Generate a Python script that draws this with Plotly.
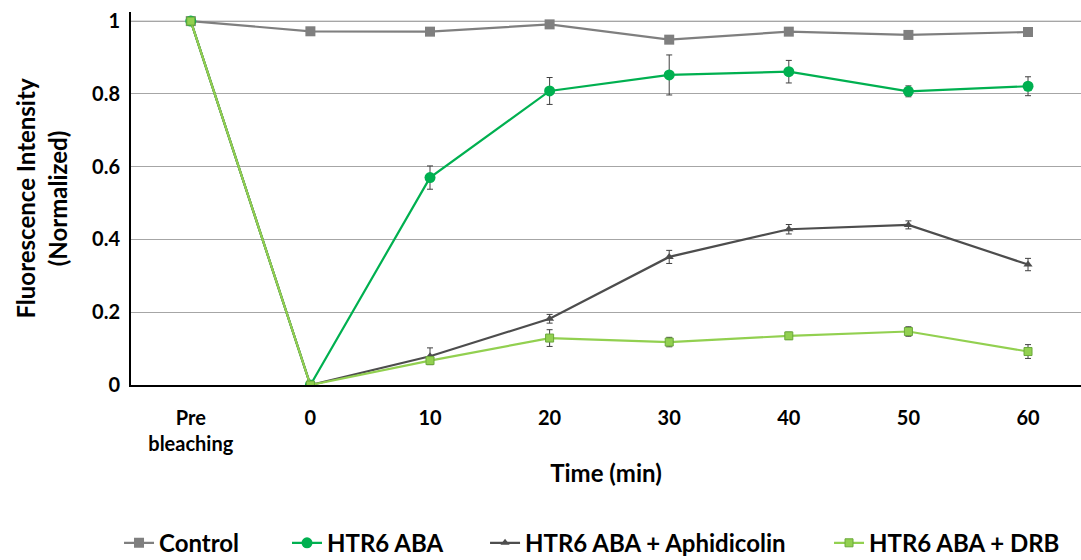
import plotly.graph_objects as go

categories = ["Pre<br>bleaching", "0", "10", "20", "30", "40", "50", "60"]

control = [1.0, 0.972, 0.971, 0.991, 0.949, 0.971, 0.962, 0.970]
control_err = [0, 0, 0, 0, 0, 0, 0, 0]

aba = [1.0, 0.0, 0.570, 0.808, 0.852, 0.861, 0.807, 0.821]
aba_err = [0, 0, 0.032, 0.037, 0.055, 0.031, 0.015, 0.026]

aphid = [1.0, 0.0, 0.079, 0.182, 0.352, 0.428, 0.440, 0.331]
aphid_err = [0, 0, 0.023, 0.012, 0.018, 0.013, 0.011, 0.017]

drb = [1.0, 0.0, 0.067, 0.129, 0.118, 0.135, 0.147, 0.092]
drb_err = [0, 0, 0.010, 0.023, 0.013, 0.010, 0.013, 0.019]

x = list(range(len(categories)))
FONT = "Lato"

def err(vals):
    return dict(type="data", array=vals, visible=True, color="#404040", thickness=1, width=3)

fig = go.Figure()
fig.add_trace(go.Scatter(x=x, y=control, name="Control", mode="lines+markers",
                         line=dict(color="#7f7f7f", width=2.2),
                         marker=dict(symbol="square", size=10, color="#7f7f7f"),
                         error_y=err(control_err), legend="legend"))
fig.add_trace(go.Scatter(x=x, y=aba, name="HTR6 ABA", mode="lines+markers",
                         line=dict(color="#00b050", width=2.2),
                         marker=dict(symbol="circle", size=11, color="#00b050"),
                         error_y=err(aba_err), legend="legend2"))
fig.add_trace(go.Scatter(x=x, y=aphid, name="HTR6 ABA + Aphidicolin", mode="lines+markers",
                         line=dict(color="#4d4d4d", width=2.2),
                         marker=dict(symbol="triangle-up", size=8, color="#4d4d4d"),
                         error_y=err(aphid_err), legend="legend3"))
fig.add_trace(go.Scatter(x=x, y=drb, name="HTR6 ABA + DRB", mode="lines+markers",
                         line=dict(color="#92d050", width=2.2),
                         marker=dict(symbol="square", size=8, color="#92d050",
                                     line=dict(color="#6aa83a", width=1)),
                         error_y=err(drb_err), legend="legend4"))

fig.add_shape(type="line", xref="paper", yref="y", x0=0, x1=1, y0=1, y1=1,
              line=dict(color="#d4d4d4", width=1.5), layer="below")

LEG_Y = 0.03
def leg(xpos):
    return dict(orientation="h", xref="container", yref="container",
                x=xpos, xanchor="left", y=LEG_Y, yanchor="middle",
                font=dict(size=24, family=FONT, weight="bold"), itemwidth=30,
                bgcolor="rgba(0,0,0,0)")

fig.update_layout(
    width=1081, height=560,
    margin=dict(l=131, r=0, t=12, b=175),
    paper_bgcolor="white", plot_bgcolor="white",
    font=dict(family=FONT, color="black"),
    showlegend=True,
    legend=leg(0.1101),
    legend2=leg(0.2655),
    legend3=leg(0.4487),
    legend4=leg(0.7669),
)
fig.update_xaxes(
    range=[-0.5, 7.443], tickmode="array", tickvals=x, ticktext=categories,
    showgrid=False, showline=True, linecolor="black", linewidth=2,
    ticks="", tickfont=dict(size=20, family=FONT, weight="bold"),
    ticklabelstandoff=14,
    title=dict(text="Time (min)", font=dict(size=24, family=FONT, weight="bold"), standoff=11),
    zeroline=False,
)
fig.update_yaxes(
    range=[0, 1.025], tickmode="array", tickvals=[0, 0.2, 0.4, 0.6, 0.8, 1],
    ticktext=["0", "0.2", "0.4", "0.6", "0.8", "1"],
    showgrid=True, gridcolor="#a6a6a6", gridwidth=1,
    showline=True, linecolor="black", linewidth=2, ticks="",
    tickfont=dict(size=20, family=FONT, weight="bold"),
    ticklabelstandoff=5,
    title=dict(text="Fluorescence Intensity<br>(Normalized)",
               font=dict(size=24, family=FONT, weight="bold"), standoff=18),
    zeroline=False,
)

fig.write_html("out.html")
